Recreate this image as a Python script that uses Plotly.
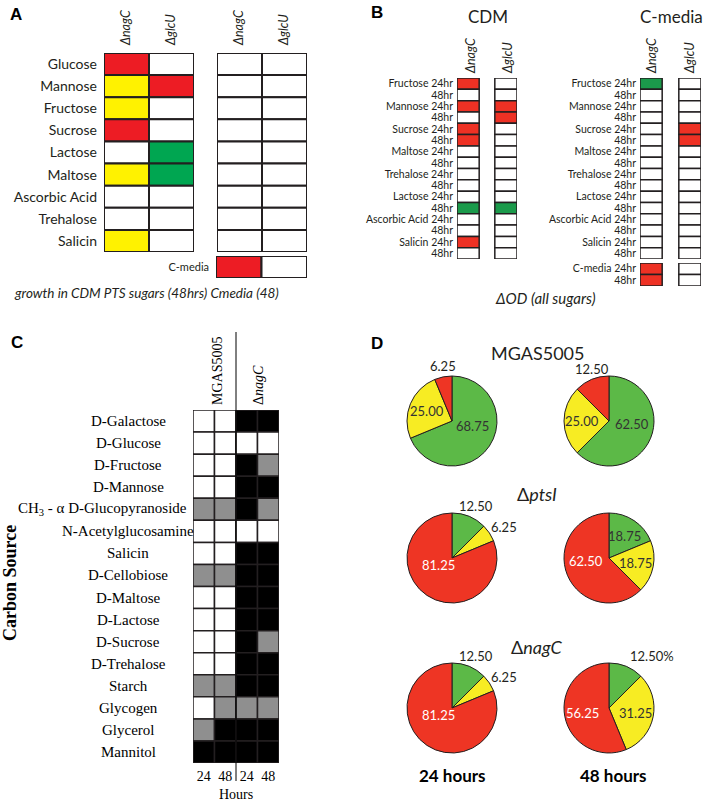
import math
import plotly.graph_objects as go

W, H = 706, 804

# ---------------- data ----------------
# panel A: growth in CDM PTS sugars (48 h) and C-media (48 h); R/Y/G = colour class, "-" = none
a_sugars = ["Glucose", "Mannose", "Fructose", "Sucrose", "Lactose", "Maltose",
            "Ascorbic Acid", "Trehalose", "Salicin"]
a_strains = ["ΔnagC", "ΔglcU"]
a_cdm_nagC = ["R", "Y", "Y", "R", "-", "Y", "-", "-", "Y"]
a_cdm_glcU = ["-", "R", "-", "-", "G", "G", "-", "-", "-"]
a_cm_nagC = ["-", "-", "-", "-", "-", "-", "-", "-", "-"]
a_cm_glcU = ["-", "-", "-", "-", "-", "-", "-", "-", "-"]
a_cmedia = ["R", "-"]

# panel B: delta OD (all sugars)
b_rows = ["Fructose 24hr", "48hr", "Mannose 24hr", "48hr", "Sucrose 24hr", "48hr",
          "Maltose 24hr", "48hr", "Trehalose 24hr", "48hr", "Lactose 24hr", "48hr",
          "Ascorbic Acid 24hr", "48hr", "Salicin 24hr", "48hr"]
b_cdm_nagC = ["R", "-", "R", "-", "R", "R", "-", "-", "-", "-", "-", "G", "-", "-", "R", "-"]
b_cdm_glcU = ["-", "-", "R", "R", "-", "-", "-", "-", "-", "-", "-", "G", "-", "-", "-", "-"]
b_cm_nagC = ["G", "-", "-", "-", "-", "-", "-", "-", "-", "-", "-", "-", "-", "-", "-", "-"]
b_cm_glcU = ["-", "-", "-", "-", "R", "R", "-", "-", "-", "-", "-", "-", "-", "-", "-", "-"]
b_ctrl_rows = ["C-media 24hr", "48hr"]
b_ctrl_nagC = ["R", "R"]
b_ctrl_glcU = ["-", "-"]

# panel C: carbon source use, 0 = none, 1 = partial, 2 = growth
c_sources = ["D-Galactose", "D-Glucose", "D-Fructose", "D-Mannose",
             "CH<sub>3</sub> - α D-Glucopyranoside", "N-Acetylglucosamine", "Salicin",
             "D-Cellobiose", "D-Maltose", "D-Lactose", "D-Sucrose", "D-Trehalose",
             "Starch", "Glycogen", "Glycerol", "Mannitol"]
c_hours = ["24", "48", "24", "48"]
c_mgas_24 = [0, 0, 0, 0, 1, 0, 0, 1, 0, 0, 0, 0, 1, 0, 1, 2]
c_mgas_48 = [0, 0, 0, 0, 1, 0, 0, 1, 0, 0, 0, 0, 1, 1, 2, 2]
c_nagC_24 = [2, 0, 2, 2, 2, 0, 2, 2, 2, 2, 2, 2, 2, 1, 2, 2]
c_nagC_48 = [2, 0, 1, 2, 1, 0, 2, 2, 2, 2, 1, 2, 2, 1, 2, 2]

# panel D: percentage of sugars (green / yellow / red)
d_strains = ["MGAS5005", "Δ<i>ptsI</i>", "Δ<i>nagC</i>"]
d_times = ["24 hours", "48 hours"]
d_green_24 = [68.75, 12.50, 12.50]
d_yellow_24 = [25.00, 6.25, 6.25]
d_red_24 = [6.25, 81.25, 81.25]
d_green_48 = [62.50, 18.75, 12.50]
d_yellow_48 = [25.00, 18.75, 31.25]
d_red_48 = [12.50, 62.50, 56.25]

# ---------------- styles ----------------
SANS = "Lato"
SERIF = "Liberation Serif"
INK = "#231f20"
a_cmap = {"R": "#ed1c24", "Y": "#fff200", "G": "#00a651", "-": "white"}
b_cmap = {"R": "#ee3124", "Y": "#fff200", "G": "#1b9a4b", "-": "white"}
c_cmap = {0: "white", 1: "#8f8f8f", 2: "black"}
pie_cols = ["#5cb947", "#f7ec23", "#ee3524"]
pie_txt = ["#333333", "#333333", "white"]


def px_x(x):
    return x / W


def px_y(y):
    return 1 - y / H


fig = go.Figure()
axes = {}
grid_n = [0]


def add_grid(columns, cmap, box, bar_w=1.0, line_w=1.5, labels=None,
             font=None, standoff=4):
    grid_n[0] += 1
    k = grid_n[0]
    xa, ya = f"x{k}", f"y{k}"
    n = len(columns[0])
    for ci, col in enumerate(columns):
        fig.add_trace(go.Bar(
            x=[ci] * n, y=[1] * n, base=list(range(n)), width=bar_w,
            marker=dict(color=[cmap[c] for c in col],
                        line=dict(color=INK, width=line_w)),
            xaxis=xa, yaxis=ya, cliponaxis=False,
            hoverinfo="skip", showlegend=False))
    x0, x1, y0, y1 = box
    xaxis = dict(domain=[px_x(x0), px_x(x1)],
                 range=[-bar_w / 2, len(columns) - 1 + bar_w / 2],
                 anchor=ya, visible=False, fixedrange=True)
    yaxis = dict(domain=[px_y(y1), px_y(y0)], range=[n, 0], anchor=xa,
                 visible=False, fixedrange=True)
    if labels:
        yaxis.update(visible=True, showgrid=False, zeroline=False, showline=False,
                     ticks="", tickmode="array",
                     tickvals=[r + 0.5 for r in range(n)], ticktext=labels,
                     tickfont=font, ticklabelstandoff=standoff)
    sfx = "" if k == 1 else str(k)
    axes["xaxis" + sfx] = xaxis
    axes["yaxis" + sfx] = yaxis
    return k


# panel A
add_grid([a_cdm_nagC, a_cdm_glcU], a_cmap, (104, 194, 53, 252), line_w=2,
         labels=a_sugars, font=dict(family=SANS, size=14, color=INK), standoff=6)
add_grid([a_cm_nagC, a_cm_glcU], a_cmap, (217, 307, 53, 252), line_w=2)
add_grid([[a_cmedia[0]], [a_cmedia[1]]], a_cmap, (216, 307, 256, 278), line_w=2,
         labels=["C-media"], font=dict(family=SANS, size=11, color=INK), standoff=6)

# panel B
bfont = dict(family=SANS, size=10.5, color=INK)
add_grid([b_cdm_nagC, b_cdm_glcU], b_cmap, (457, 517, 78, 259), bar_w=22 / 37.5,
         labels=b_rows, font=bfont, standoff=3)
add_grid([b_cm_nagC, b_cm_glcU], b_cmap, (640, 701, 78, 259), bar_w=22 / 38.5,
         labels=b_rows, font=bfont, standoff=3)
add_grid([b_ctrl_nagC, b_ctrl_glcU], b_cmap, (640, 701, 263, 286), bar_w=22 / 38.5,
         labels=b_ctrl_rows, font=bfont, standoff=3)

# panel C
kc = add_grid([c_mgas_24, c_mgas_48, c_nagC_24, c_nagC_48], c_cmap,
              (193, 279, 410, 763), line_w=1.5)
axes[f"xaxis{kc}"].update(visible=True, showgrid=False, zeroline=False,
                          showline=False, ticks="", tickmode="array",
                          tickvals=list(range(len(c_hours))), ticktext=c_hours,
                          tickfont=dict(family=SERIF, size=14, color="black"),
                          ticklabelstandoff=3)

ann = []


def text(x, y, s, size=13, family=SANS, xanchor="center", yanchor="middle",
         angle=0, color=INK):
    ann.append(dict(x=px_x(x), y=px_y(y), xref="paper", yref="paper", text=s,
                    showarrow=False, xanchor=xanchor, yanchor=yanchor,
                    textangle=angle, font=dict(family=family, size=size, color=color)))


# panel letters
for lx, ly, s in [(8, 15, "A"), (369, 13, "B"), (9, 342, "C"), (369, 343, "D")]:
    text(lx, ly, "<b>" + s + "</b>", size=17, family="Liberation Sans",
         xanchor="left", color="black")

# panel A headers and caption
for x, s in zip([126, 171, 239, 284], a_strains * 2):
    text(x, 48, "<i>" + s + "</i>", size=12.5, yanchor="bottom", angle=-90)
text(12, 293, "<i>growth in CDM PTS sugars (48hrs) Cmedia (48)</i>", size=13.5,
     xanchor="left")

# panel B headers
text(488, 16, "CDM", size=17)
text(671, 16, "C-media", size=17)
for x, s in zip([470, 507, 651, 689], a_strains * 2):
    text(x, 76, "<i>" + s + "</i>", size=12.5, yanchor="bottom", angle=-90)
text(545, 298, "<i>ΔOD (all sugars)</i>", size=15)

# panel C labels
for r, s in enumerate(c_sources):
    long = len(s) > 30
    ann.append(dict(x=px_x(189 if long else 128), y=r + 0.5, xref="paper",
                    yref=f"y{kc}", text=s, showarrow=False,
                    xanchor="right" if long else "center", yanchor="middle",
                    font=dict(family=SERIF, size=15, color="black")))
text(217, 407, "MGAS5005", size=14, family=SERIF, yanchor="bottom", angle=-90,
     color="black")
text(258, 407, "Δ<i>nagC</i>", size=14, family=SERIF, yanchor="bottom", angle=-90,
     color="black")
text(10, 583, "<b>Carbon Source</b>", size=18, family=SERIF, angle=-90,
     color="black")
text(236, 794, "Hours", size=14, family=SERIF, color="black")
shapes = [dict(type="line", xref=f"x{kc}", yref="paper", x0=1.5, x1=1.5,
               y0=px_y(781), y1=px_y(332), line=dict(color="black", width=1))]

# panel D pies
pie_cx = [452, 609]
pie_cy = [421, 558, 708]
title_y = [353, 494, 647]
R = 45
data_24 = list(zip(d_green_24, d_yellow_24, d_red_24))
data_48 = list(zip(d_green_48, d_yellow_48, d_red_48))
pct_label = {(2, 1, 0)}  # strain, time, slice printed with a % sign
for si, strain in enumerate(d_strains):
    text(537, title_y[si], strain, size=18)
    for ti, vals in enumerate([data_24[si], data_48[si]]):
        cx, cy = pie_cx[ti], pie_cy[si]
        labels = [f"{v:.2f}" + ("%" if (si, ti, j) in pct_label else "")
                  for j, v in enumerate(vals)]
        fig.add_trace(go.Pie(
            values=list(vals), labels=["green", "yellow", "red"],
            textinfo="none",
            marker=dict(colors=pie_cols, line=dict(color=INK, width=1)),
            sort=False, direction="clockwise", rotation=0,
            domain=dict(x=[px_x(cx - R), px_x(cx + R)],
                        y=[px_y(cy + R), px_y(cy - R)]),
            hoverinfo="skip", showlegend=False))
        cum = 0
        for j, v in enumerate(vals):
            mid = (cum + v / 2) / 100 * 2 * math.pi
            cum += v
            s, c = math.sin(mid), math.cos(mid)
            if v >= 15:
                kx, ky = (0.6, 0.6) if v < 60 else (0.55, 0.2)
                text(cx + kx * R * s, cy - ky * R * c, labels[j], size=13,
                     color=pie_txt[j])
            else:
                kx = 1.0 if s < 0 else (1.4 if len(labels[j]) < 6 else 2.5)
                text(cx + kx * R * s, cy - 1.25 * R * c, labels[j], size=13)
for ti, s in enumerate(d_times):
    text([452, 613][ti], 775, "<b>" + s + "</b>", size=17, color="black")

fig.update_layout(width=W, height=H, margin=dict(l=0, r=0, t=0, b=0),
                  paper_bgcolor="white", plot_bgcolor="rgba(0,0,0,0)",
                  barmode="overlay", annotations=ann, shapes=shapes, **axes)

# the default page keeps an 8px body margin; drop it so the figure sits at 0,0
fig.write_html("out.html", config={"displayModeBar": False},
               post_script="document.body.style.margin='0';")
